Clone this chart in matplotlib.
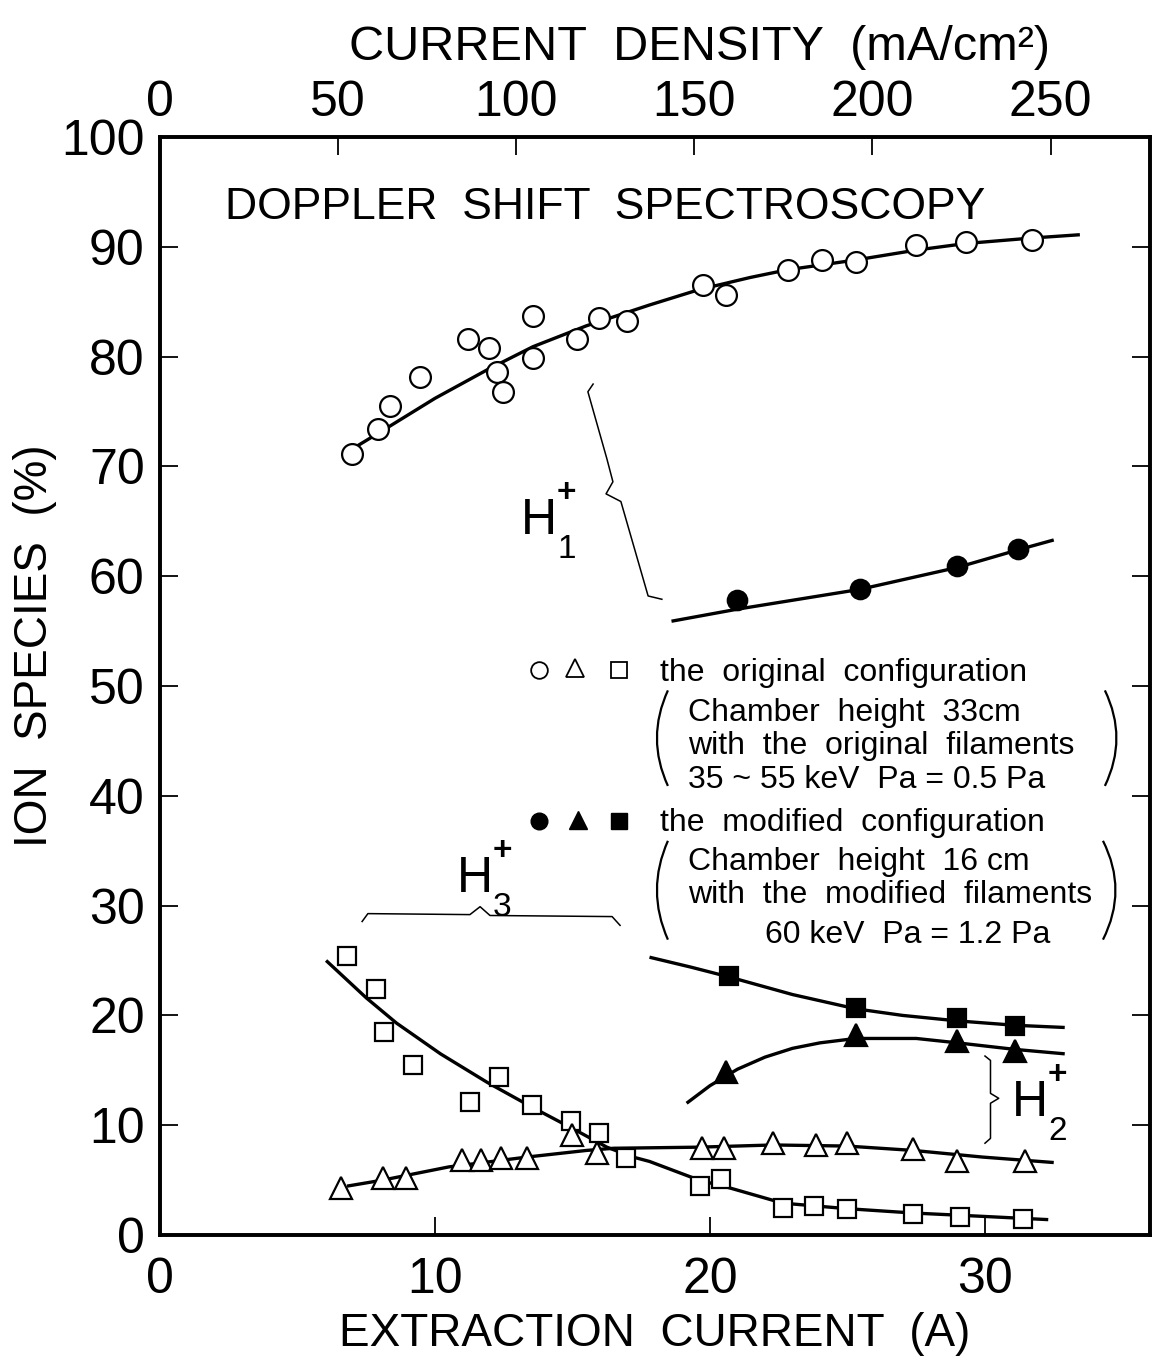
import matplotlib
matplotlib.use('Agg')
import matplotlib.pyplot as plt
from matplotlib.path import Path
from matplotlib.patches import PathPatch

plt.rcParams['font.family'] = ['Liberation Sans Narrow', 'Liberation Sans', 'DejaVu Sans']

# ---------------- data (extraction current A, ion species %) ----------------
# H1+ original configuration (open circles)
h1o_x = [6.98, 7.93, 8.36, 9.45, 11.2, 11.96, 12.25, 12.47, 13.56, 13.56, 15.16,
         15.96, 16.98, 19.75, 20.58, 22.84, 24.07, 25.3, 27.5, 29.3, 31.7]
h1o_y = [71.1, 73.4, 75.5, 78.1, 81.6, 80.8, 78.6, 76.8, 83.7, 79.9, 81.6,
         83.5, 83.2, 86.5, 85.6, 87.9, 88.8, 88.6, 90.2, 90.4, 90.6]
h1o_fit_x = [7.0, 8.25, 10.0, 11.9, 13.56, 15.5, 17.8, 19.6, 21.45, 22.8, 25.3, 27.5, 29.3, 31.7, 33.45]
h1o_fit_y = [71.6, 73.5, 76.2, 78.8, 80.9, 82.8, 84.7, 86.1, 87.2, 87.9, 88.8, 89.7, 90.3, 90.8, 91.1]

# H1+ modified configuration (filled circles)
h1m_x = [21.0, 25.45, 29.0, 31.2]
h1m_y = [57.8, 58.8, 60.9, 62.5]
h1m_fit_x = [18.6, 21.0, 25.45, 29.0, 31.2, 32.5]
h1m_fit_y = [55.9, 57.0, 58.8, 60.8, 62.4, 63.3]

# H3+ original configuration (open squares)
h3o_x = [6.8, 7.85, 8.15, 9.2, 11.27, 12.33, 13.53, 14.95, 15.96, 16.95, 19.64, 20.4,
         22.65, 23.8, 24.98, 27.4, 29.1, 31.4]
h3o_y = [25.4, 22.4, 18.5, 15.5, 12.1, 14.4, 11.8, 10.4, 9.3, 7.0, 4.45, 5.1,
         2.5, 2.6, 2.35, 1.9, 1.6, 1.5]
h3o_fit_x = [6.04, 7.5, 8.6, 10.2, 11.9, 13.56, 15.15, 16.25, 17.2, 17.8, 19.6, 20.7,
             22.65, 24.98, 27.4, 29.9, 32.3]
h3o_fit_y = [25.0, 21.6, 19.3, 16.5, 13.9, 11.6, 9.5, 8.0, 7.1, 6.7, 5.0, 4.3,
             2.9, 2.4, 2.0, 1.7, 1.4]

# H3+ modified configuration (filled squares)
h3m_x = [20.7, 25.3, 29.0, 31.1]
h3m_y = [23.6, 20.7, 19.8, 19.0]
h3m_fit_x = [17.8, 19.3, 20.7, 23.0, 25.3, 27.0, 29.0, 31.1, 32.9]
h3m_fit_y = [25.3, 24.4, 23.5, 21.9, 20.6, 20.0, 19.5, 19.1, 18.9]

# H2+ original configuration (open triangles)
h2o_x = [6.6, 8.1, 8.95, 10.97, 11.67, 12.4, 13.35, 14.97, 15.9, 19.7, 20.5,
         22.3, 23.85, 24.98, 27.4, 29.0, 31.45]
h2o_y = [4.3, 5.2, 5.2, 6.8, 6.8, 7.0, 7.0, 9.1, 7.45, 7.9, 7.9,
         8.4, 8.2, 8.4, 7.8, 6.7, 6.7]
h2o_fit_x = [6.8, 8.1, 10.5, 13.35, 15.5, 16.5, 19.6, 22.3, 24.98, 27.4, 29.9, 32.5]
h2o_fit_y = [4.45, 5.0, 6.2, 7.1, 7.7, 7.9, 8.0, 8.2, 8.1, 7.7, 7.1, 6.6]

# H2+ modified configuration (filled triangles)
h2m_x = [20.6, 25.3, 29.0, 31.1]
h2m_y = [14.8, 18.2, 17.7, 16.8]
h2m_fit_x = [19.15, 20.0, 21.0, 22.0, 23.0, 24.0, 25.3, 27.5, 29.0, 31.1, 32.9]
h2m_fit_y = [12.0, 13.6, 15.1, 16.2, 17.0, 17.5, 17.9, 17.9, 17.5, 16.9, 16.5]

# annotation braces
brace1_x = [15.75, 15.56, 16.25, 16.47, 16.22, 16.76, 17.75, 18.25]
brace1_y = [77.5, 76.8, 70.7, 68.6, 67.5, 66.8, 58.2, 57.9]
brace3_x = [7.35, 7.56, 11.27, 11.64, 12.0, 16.44, 16.73]
brace3_y = [28.55, 29.27, 29.18, 29.9, 29.1, 29.0, 28.2]
brace2_x = [30.0, 30.2, 30.2, 30.5, 30.2, 30.2, 30.0]
brace2_y = [16.3, 15.9, 12.9, 12.45, 12.0, 8.8, 8.36]

x_ticks = [0, 10, 20, 30]
y_ticks = [0, 10, 20, 30, 40, 50, 60, 70, 80, 90, 100]
top_ticks = [0, 50, 100, 150, 200, 250]
density_per_amp = 7.72  # mA/cm^2 per A

legend_lines_1 = ["the  original  configuration",
                  "Chamber  height  33cm",
                  "with  the  original  filaments",
                  "35 ~ 55 keV  Pa = 0.5 Pa"]
legend_lines_2 = ["the  modified  configuration",
                  "Chamber  height  16 cm",
                  "with  the  modified  filaments",
                  "60 keV  Pa = 1.2 Pa"]

# ---------------- figure ----------------
fig = plt.figure(figsize=(11.56, 13.66), dpi=100)
ax = fig.add_axes([0.1384, 0.0959, 0.8564, 0.8038])
XMAX = 36.0
ax.set_xlim(0, XMAX)
ax.set_ylim(0, 100)

LW = 2.4
MEW = 1.6
def curve(x, y):
    ax.plot(x, y, '-', color='black', lw=LW, zorder=2, solid_capstyle='butt',
            solid_joinstyle='round')

def pts(x, y, marker, filled, ms):
    ax.plot(x, y, linestyle='none', marker=marker, ms=ms,
            mfc='black' if filled else 'white', mec='black', mew=MEW, zorder=3)

curve(h1o_fit_x, h1o_fit_y); pts(h1o_x, h1o_y, 'o', False, 15)
curve(h1m_fit_x, h1m_fit_y); pts(h1m_x, h1m_y, 'o', True, 14)
curve(h3o_fit_x, h3o_fit_y); pts(h3o_x, h3o_y, 's', False, 13)
curve(h3m_fit_x, h3m_fit_y); pts(h3m_x, h3m_y, 's', True, 13)
curve(h2o_fit_x, h2o_fit_y); pts(h2o_x, h2o_y, '^', False, 16)
curve(h2m_fit_x, h2m_fit_y); pts(h2m_x, h2m_y, '^', True, 15.5)

for bx, by in [(brace1_x, brace1_y), (brace3_x, brace3_y), (brace2_x, brace2_y)]:
    ax.plot(bx, by, '-', color='black', lw=1.1, zorder=2)

# species labels
def species(xh, yh, sub):
    ax.text(xh, yh, 'H', fontsize=36, ha='center', va='center')
    ax.text(xh + 1.0, yh + 2.5, '+', fontsize=24, ha='center', va='center', fontweight='bold')
    ax.text(xh + 1.0, yh - 2.6, sub, fontsize=24, ha='center', va='center')

species(13.78, 65.0, '1')
species(11.45, 32.4, '3')
species(31.64, 12.0, '2')

# title inside plot
ax.text(16.2, 93.6, 'DOPPLER  SHIFT  SPECTROSCOPY', fontsize=32, ha='center', va='center')

# legend block
LFS = 23
ax.plot([13.8], [51.5], 'o', ms=12, mfc='white', mec='black', mew=1.3, clip_on=False)
ax.plot([15.1], [51.6], '^', ms=13, mfc='white', mec='black', mew=1.3, clip_on=False)
ax.plot([16.7], [51.5], 's', ms=11, mfc='white', mec='black', mew=1.3, clip_on=False)
ax.plot([13.8], [37.7], 'o', ms=12, mfc='black', mec='black', clip_on=False)
ax.plot([15.2], [37.8], '^', ms=13, mfc='black', mec='black', clip_on=False)
ax.plot([16.7], [37.7], 's', ms=11, mfc='black', mec='black', clip_on=False)

ax.text(18.2, 50.5, legend_lines_1[0], fontsize=LFS, ha='left', va='baseline')
ax.text(19.2, 46.8, legend_lines_1[1], fontsize=LFS, ha='left', va='baseline')
ax.text(19.2, 43.8, legend_lines_1[2], fontsize=LFS, ha='left', va='baseline')
ax.text(19.2, 40.7, legend_lines_1[3], fontsize=LFS, ha='left', va='baseline')
ax.text(18.2, 36.8, legend_lines_2[0], fontsize=LFS, ha='left', va='baseline')
ax.text(19.2, 33.2, legend_lines_2[1], fontsize=LFS, ha='left', va='baseline')
ax.text(19.2, 30.2, legend_lines_2[2], fontsize=LFS, ha='left', va='baseline')
ax.text(22.0, 26.6, legend_lines_2[3], fontsize=LFS, ha='left', va='baseline')

def paren(x_end, x_ctrl, y_top, y_bot):
    p = Path([(x_end, y_top), (x_ctrl, (y_top + y_bot) / 2), (x_end, y_bot)],
             [Path.MOVETO, Path.CURVE3, Path.CURVE3])
    ax.add_patch(PathPatch(p, fill=False, lw=1.6, color='black'))

paren(18.47, 17.67, 49.6, 40.9)
paren(34.36, 35.2, 49.6, 40.9)
paren(18.47, 17.67, 35.9, 26.9)
paren(34.29, 35.2, 35.9, 26.9)

# axes styling
TFS = 36
for s in ax.spines.values():
    s.set_linewidth(2.6)
ax.set_xticks(x_ticks)
ax.set_yticks(y_ticks)
ax.tick_params(direction='in', length=13, width=1.3, labelsize=TFS,
               right=True, top=False, pad=11)
ax.tick_params(axis='x', pad=16)
ax.set_xlabel('EXTRACTION  CURRENT  (A)', fontsize=33, labelpad=6)
ax.set_ylabel('ION  SPECIES  (%)', fontsize=33)
ax.yaxis.set_label_coords(-0.104, 0.537)

ax2 = ax.twiny()
ax2.set_xlim(0, XMAX * density_per_amp)
ax2.set_xticks(top_ticks)
ax2.tick_params(direction='in', length=13, width=1.3, labelsize=TFS, pad=8)
ax2.set_xlabel('CURRENT  DENSITY  (mA/cm²)', fontsize=35)
ax2.xaxis.set_label_coords(0.545, 1.07)
for s in ax2.spines.values():
    s.set_linewidth(2.6)

fig.savefig('out.png', dpi=100)
